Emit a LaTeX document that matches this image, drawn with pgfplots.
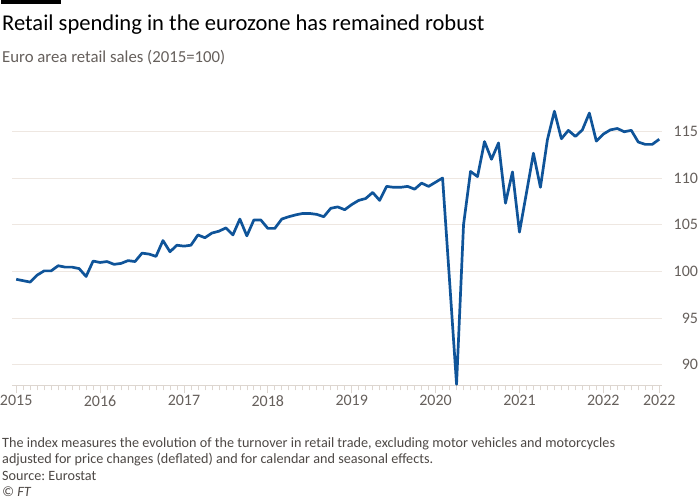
\documentclass[border=0pt]{standalone}
\usepackage{fontspec}
\setmainfont{Carlito}
\usepackage{pgfplots}
\pgfplotsset{compat=1.18}
\usepackage{xcolor}
\definecolor{ftblue}{HTML}{0F5499}
\definecolor{gridcol}{HTML}{EEE7E1}
\definecolor{tickcol}{HTML}{DDD6D0}
\definecolor{labelgrey}{HTML}{66605C}
\definecolor{notegrey}{HTML}{4D4845}
\frenchspacing

\pgfplotstableread{
m   idx
0   99.15
1   99.00
2   98.85
3   99.60
4   100.05
5   100.05
6   100.60
7   100.45
8   100.45
9   100.30
10  99.45
11  101.10
12  100.95
13  101.05
14  100.75
15  100.85
16  101.15
17  101.05
18  101.95
19  101.85
20  101.60
21  103.30
22  102.10
23  102.80
24  102.70
25  102.80
26  103.90
27  103.60
28  104.10
29  104.30
30  104.65
31  103.90
32  105.60
33  103.80
34  105.50
35  105.50
36  104.60
37  104.60
38  105.60
39  105.85
40  106.05
41  106.20
42  106.20
43  106.10
44  105.85
45  106.75
46  106.90
47  106.60
48  107.15
49  107.60
50  107.80
51  108.45
52  107.60
53  109.10
54  109.00
55  109.00
56  109.10
57  108.80
58  109.45
59  109.10
60  109.55
61  110.00
62  99.00
63  87.90
64  105.00
65  110.70
66  110.15
67  113.90
68  112.00
69  113.75
70  107.30
71  110.65
72  104.20
73  108.40
74  112.65
75  109.00
76  114.10
77  117.15
78  114.20
79  115.10
80  114.45
81  115.15
82  116.95
83  113.95
84  114.70
85  115.15
86  115.30
87  114.95
88  115.10
89  113.85
90  113.60
91  113.60
92  114.15
}\retail

\begin{document}
\begin{tikzpicture}[x=1pt,y=1pt]
  \fill[white] (0,0) rectangle (700,500);
  % top rule
  \fill[black] (0,496) rectangle (60,500);
  \node[anchor=base west, inner sep=0pt, font=\fontsize{22.6}{26}\selectfont] at (1,469) {Retail spending in the eurozone has remained robust};
  \node[anchor=base west, inner sep=0pt, text=labelgrey, font=\fontsize{16.8}{20}\selectfont] at (1,437) {Euro area retail sales (2015=100)};

  \begin{axis}[
    at={(16,122)}, anchor=south west,
    scale only axis, width=651pt, height=288pt,
    xmin=-0.57, xmax=92.43,
    ymin=87.79, ymax=118.59,
    axis x line*=bottom, axis y line*=right,
    x axis line style={draw=tickcol, line width=0.8pt, -},
    y axis line style={draw=none},
    xtick={0,12,24,36,48,60,72,84,92},
    xticklabels={2015,2016,2017,2018,2019,2020,2021,2022,2022},
    minor xtick={0,1,...,92},
    tick align=outside,
    major tick length=8pt, minor tick length=5pt,
    xtick style={draw=tickcol, line width=0.7pt},
    ytick={90,95,100,105,110,115},
    ytick style={draw=none},
    ymajorgrids, grid style={draw=gridcol, line width=0.8pt},
    /pgf/number format/assume math mode=true,
    tick label style={font=\fontsize{16}{19}\selectfont, text=labelgrey},
    yticklabel style={anchor=east, inner sep=0pt, xshift=28pt},
    xticklabel style={inner sep=0pt, yshift=-2pt},
    clip=false,
  ]
    \addplot[ftblue, line width=2.7pt, line join=round, no marks] table[x=m, y=idx] {\retail};
  \end{axis}

  \begin{scope}[every node/.style={anchor=base west, inner sep=0pt, text=notegrey, font=\fontsize{14.2}{17}\selectfont}]
    \node at (1,52) {The index measures the evolution of the turnover in retail trade, excluding motor vehicles and motorcycles};
    \node at (1,36) {adjusted for price changes (deflated) and for calendar and seasonal effects.};
    \node at (1,19) {Source: Eurostat};
    \node at (1,3) {\itshape \textcopyright{} FT};
  \end{scope}
\end{tikzpicture}
\end{document}
